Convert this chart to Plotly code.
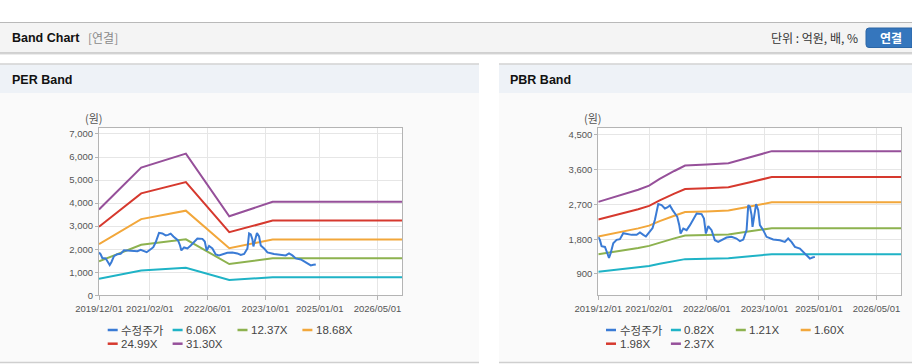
import plotly.graph_objects as go

W, H = 912, 364

# ---------------- data ----------------
price_dates = ["2019-12-01", "2019-12-15", "2019-12-29", "2020-01-26", "2020-02-15", "2020-02-29",
               "2020-03-14", "2020-04-05", "2020-05-03", "2020-05-31", "2020-06-28", "2020-07-27",
               "2020-09-07", "2020-10-19", "2020-11-16", "2020-12-14", "2021-01-05", "2021-02-08",
               "2021-03-02", "2021-03-22", "2021-04-19", "2021-05-17", "2021-06-14", "2021-07-04",
               "2021-07-26", "2021-08-18", "2021-09-06", "2021-09-26", "2021-10-13", "2021-10-24",
               "2021-11-16", "2021-12-14", "2022-01-11", "2022-02-08", "2022-03-08", "2022-04-19",
               "2022-05-09", "2022-05-25", "2022-06-14", "2022-07-12", "2022-08-09", "2022-09-06",
               "2022-10-04", "2022-11-15", "2022-12-27", "2023-02-07", "2023-03-08", "2023-04-05",
               "2023-05-03", "2023-05-17", "2023-05-31", "2023-06-14", "2023-06-22", "2023-07-05",
               "2023-07-22", "2023-08-09", "2023-08-23", "2023-09-20", "2023-10-18", "2023-12-13",
               "2024-02-07", "2024-03-20", "2024-04-17", "2024-05-15", "2024-06-13", "2024-07-25",
               "2024-08-22", "2024-09-19", "2024-10-17", "2024-11-08", "2024-11-28"]
price = [1861, 1775, 1618, 1600, 1436, 1315,
         1436, 1696, 1783, 1800, 1955, 1938,
         1912, 1912, 1973, 1912, 1870, 2000,
         2086, 2302, 2708, 2682, 2596, 2622,
         2674, 2553, 2466, 2380, 2163, 1947,
         2077, 2034, 2163, 2336, 2466, 2449,
         2336, 1947, 2137, 2034, 1774, 1730,
         1774, 1843, 1861, 1817, 1748, 1791,
         2034, 2682, 2639, 2423, 2120, 2423,
         2708, 2553, 2163, 2034, 1861, 1791,
         1774, 1731, 1817, 1731, 1601, 1557,
         1471, 1384, 1298, 1324, 1341]

per_dates = ["2019-12-01", "2020-11-20", "2021-12-01", "2022-12-01", "2023-12-01", "2026-11-26"]
per_6_06 = [721, 1073, 1191, 664, 786, 786]
per_12_37 = [1472, 2189, 2431, 1355, 1604, 1604]
per_18_68 = [2223, 3306, 3671, 2045, 2423, 2423]
per_24_99 = [2974, 4423, 4911, 2736, 3241, 3241]
per_31_30 = [3725, 5540, 6150, 3427, 4060, 4060]
per_names = ["수정주가", "6.06X", "12.37X", "18.68X", "24.99X", "31.30X"]

pbr_dates = ["2019-12-01", "2020-06-01", "2020-11-01", "2021-02-01", "2021-05-01", "2021-09-01",
             "2021-12-01", "2022-06-01", "2022-12-01", "2023-06-01", "2023-12-01", "2026-11-26"]
pbr_0_82 = [957, 1013, 1066, 1103, 1163, 1234, 1283, 1292, 1304, 1357, 1412, 1412]
pbr_1_21 = [1412, 1494, 1573, 1627, 1716, 1821, 1894, 1906, 1924, 2003, 2084, 2084]
pbr_1_60 = [1867, 1976, 2080, 2152, 2269, 2408, 2504, 2520, 2544, 2648, 2755, 2755]
pbr_1_98 = [2311, 2445, 2574, 2663, 2808, 2980, 3099, 3119, 3148, 3277, 3410, 3410]
pbr_2_37 = [2766, 2927, 3081, 3188, 3361, 3567, 3709, 3733, 3768, 3922, 4081, 4081]
pbr_names = ["수정주가", "0.82X", "1.21X", "1.60X", "1.98X", "2.37X"]

x_tickvals = ["2019-12-01", "2021-02-01", "2022-06-01", "2023-10-01", "2025-01-01", "2026-05-01"]
x_ticktext = ["2019/12/01", "2021/02/01", "2022/06/01", "2023/10/01", "2025/01/01", "2026/05/01"]
x_range = ["2019-12-01", "2026-11-26"]

colors = ["#3a7bd5", "#1fb3c6", "#8db24f", "#f2a73b", "#d6392e", "#96509a"]

# ---------------- helpers ----------------
def px(x):
    return x / W


def py(y):
    return 1 - y / H


FONT = "Liberation Sans, Arial, Noto Sans CJK KR, sans-serif"
KFONT = "Noto Sans CJK KR, Liberation Sans, sans-serif"

fig = go.Figure()

per_series = [price, per_6_06, per_12_37, per_18_68, per_24_99, per_31_30]
pbr_series = [price, pbr_0_82, pbr_1_21, pbr_1_60, pbr_1_98, pbr_2_37]

draw_order = [1, 2, 3, 4, 5, 0]
for i in draw_order:
    xs = price_dates if i == 0 else per_dates
    fig.add_trace(go.Scatter(x=xs, y=per_series[i], mode="lines", name=per_names[i],
                             line=dict(color=colors[i], width=2), xaxis="x", yaxis="y",
                             showlegend=False, hoverinfo="x+y+name"))
for i in draw_order:
    xs = price_dates if i == 0 else pbr_dates
    fig.add_trace(go.Scatter(x=xs, y=pbr_series[i], mode="lines", name=pbr_names[i],
                             line=dict(color=colors[i], width=2), xaxis="x2", yaxis="y2",
                             showlegend=False, hoverinfo="x+y+name"))

axis_common_x = dict(type="date", range=x_range, tickvals=x_tickvals, ticktext=x_ticktext,
                     showgrid=True, gridcolor="#e6e6e6", gridwidth=1, automargin=False,
                     showline=True, linecolor="#b4b4b4", linewidth=1, mirror=True,
                     ticks="outside", ticklen=4, tickcolor="#b4b4b4",
                     tickfont=dict(family=FONT, size=9.5, color="#555555"), zeroline=False,
                     fixedrange=True)
axis_common_y = dict(showgrid=True, gridcolor="#e6e6e6", gridwidth=1, automargin=False,
                     showline=True, linecolor="#b4b4b4", linewidth=1, mirror=True,
                     ticks="outside", ticklen=3, tickcolor="#b4b4b4", tickformat=",",
                     tickfont=dict(family=FONT, size=9.5, color="#555555"), zeroline=False,
                     fixedrange=True)

y_bot, y_top = 295.3, 128.3
fig.update_layout(
    width=W, height=H, margin=dict(l=0, r=0, t=0, b=0, pad=0), autosize=False,
    paper_bgcolor="#ffffff", plot_bgcolor="rgba(0,0,0,0)", showlegend=False,
    xaxis=dict(domain=[px(99), px(402.3)], anchor="y", **axis_common_x),
    yaxis=dict(domain=[py(y_bot), py(y_top)], anchor="x", range=[0, 7246], dtick=1000,
               tick0=0, **axis_common_y),
    xaxis2=dict(domain=[px(598.3), px(901.3)], anchor="y2", **axis_common_x),
    yaxis2=dict(domain=[py(y_bot), py(y_top)], anchor="x2", range=[346, 4673], dtick=900,
                tick0=0, **axis_common_y),
)

shapes = []
# top header bar
shapes.append(dict(type="rect", xref="paper", yref="paper", x0=0, x1=1, y0=py(53), y1=py(22.5),
                   fillcolor="#f4f4f4", line=dict(width=0), layer="below"))
shapes.append(dict(type="line", xref="paper", yref="paper", x0=0, x1=1, y0=py(22.5), y1=py(22.5),
                   line=dict(color="#b9b9b9", width=1), layer="below"))
shapes.append(dict(type="line", xref="paper", yref="paper", x0=0, x1=1, y0=py(53), y1=py(53),
                   line=dict(color="#c4c4c4", width=1.5), layer="below"))
shapes.append(dict(type="line", xref="paper", yref="paper", x0=0, x1=1, y0=py(54.5), y1=py(54.5),
                   line=dict(color="#ececec", width=1), layer="below"))

# panels
for (x0, x1) in [(0, 479), (499, 912)]:
    shapes.append(dict(type="rect", xref="paper", yref="paper", x0=px(x0), x1=px(x1),
                       y0=py(362), y1=py(93), fillcolor="#fafafa", line=dict(width=0), layer="below"))
    shapes.append(dict(type="rect", xref="paper", yref="paper", x0=px(x0), x1=px(x1),
                       y0=py(93), y1=py(64.3), fillcolor="#eef2f7", line=dict(width=0), layer="below"))
    shapes.append(dict(type="line", xref="paper", yref="paper", x0=px(x0), x1=px(x1),
                       y0=py(64), y1=py(64), line=dict(color="#d2d2d2", width=1.5), layer="below"))
    shapes.append(dict(type="line", xref="paper", yref="paper", x0=px(x0), x1=px(x1),
                       y0=py(362.5), y1=py(362.5), line=dict(color="#cfcfcf", width=1.5), layer="below"))

# white plot backgrounds
for xr, yr in [("x domain", "y domain"), ("x2 domain", "y2 domain")]:
    shapes.append(dict(type="rect", xref=xr, yref=yr, x0=0, x1=1, y0=0, y1=1,
                       fillcolor="#ffffff", line=dict(width=0), layer="below"))

# blue button (rounded left corners, cut at the right edge)
bx0, bx1, by0, by1, r = 866, 912, 28, 47.5, 3
path = (f"M {px(bx0 + r)} {py(by0)} L {px(bx1)} {py(by0)} L {px(bx1)} {py(by1)} "
        f"L {px(bx0 + r)} {py(by1)} Q {px(bx0)} {py(by1)} {px(bx0)} {py(by1 - r)} "
        f"L {px(bx0)} {py(by0 + r)} Q {px(bx0)} {py(by0)} {px(bx0 + r)} {py(by0)} Z")
shapes.append(dict(type="path", xref="paper", yref="paper", path=path,
                   fillcolor="#3576bd", line=dict(color="#2c66a6", width=1), layer="above"))

annotations = []


def text(x, y, s, size=12, color="#000", bold=False, xanchor="left", family=FONT):
    annotations.append(dict(xref="paper", yref="paper", x=px(x), y=py(y), text=(f"<b>{s}</b>" if bold else s),
                            showarrow=False, xanchor=xanchor, yanchor="middle",
                            font=dict(family=family, size=size, color=color)))


text(10, 38, "Band Chart", size=12.5, color="#111111", bold=True)
text(86, 38, "[연결]", size=12, color="#8a8a8a", family=KFONT)
text(860, 38, "단위 : 억원, 배, %", size=12, color="#333333", xanchor="right", family=KFONT)
text(891, 37.5, "연결", size=12, color="#ffffff", bold=True, xanchor="center", family=KFONT)
text(10, 80, "PER Band", size=12.5, color="#111111", bold=True)
text(508, 80, "PBR Band", size=12.5, color="#111111", bold=True)
text(94, 118, "(원)", size=11, color="#555555", xanchor="center", family=KFONT)
text(593, 118, "(원)", size=11, color="#555555", xanchor="center", family=KFONT)

# manual legends (row/column layout like the original)
for base_x, names in [(107.7, per_names), (606, pbr_names)]:
    for k, nm in enumerate(names):
        row, col = divmod(k, 4)
        lx = base_x + col * 64.9
        ly = 330 + row * 13.7
        shapes.append(dict(type="line", xref="paper", yref="paper", x0=px(lx), x1=px(lx + 10),
                           y0=py(ly), y1=py(ly), line=dict(color=colors[k], width=2.5), layer="above"))
        text(lx + 11.5, ly, nm, size=11.5, color="#444444", family=FONT if k else KFONT)

fig.update_layout(shapes=shapes, annotations=annotations)
post = ("document.body.style.margin='0';document.body.style.padding='0';"
        "document.body.style.overflow='hidden';")
fig.write_html("out.html", config={"displayModeBar": False}, post_script=post)
